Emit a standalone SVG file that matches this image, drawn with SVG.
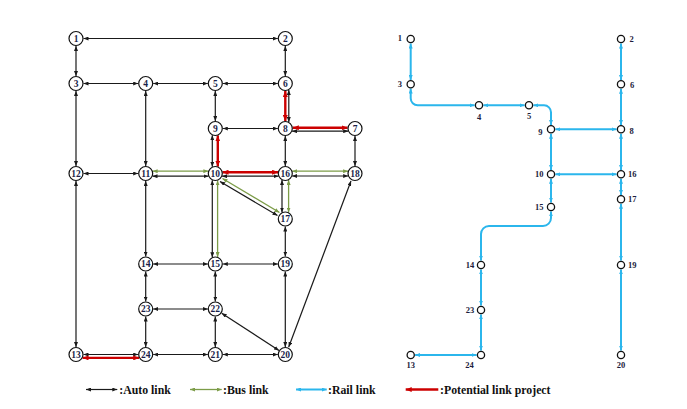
<svg xmlns="http://www.w3.org/2000/svg" width="687" height="409" viewBox="0 0 687 409">
<style>
.bg{fill:#ffffff}
.k{stroke:#1a1a1a;stroke-width:1.2;fill:none;marker-start:url(#aK);marker-end:url(#aK)}
.g{stroke:#7c9c48;stroke-width:1.3;fill:none;marker-start:url(#aG);marker-end:url(#aG)}
.r{stroke:#cc0000;stroke-width:2.4;fill:none;marker-start:url(#aR);marker-end:url(#aR)}
.b{stroke:#2bb6ec;stroke-width:2;fill:none;marker-start:url(#aB);marker-end:url(#aB)}
.n circle{fill:#ffffff;stroke:#111111;stroke-width:1.2}
.n text{font-family:"Liberation Serif",serif;font-weight:bold;font-size:9.5px;fill:#1b1f4a;text-anchor:middle}
.m circle{fill:#ffffff;stroke:#111111;stroke-width:1.3}
.m text{font-family:"Liberation Serif",serif;font-weight:bold;font-size:8.5px;fill:#1c1c3c}
.lg{font-family:"Liberation Serif",serif;font-weight:bold;font-size:11.8px;fill:#111111}
</style>
<defs>
<marker id="aK" markerUnits="userSpaceOnUse" markerWidth="5" markerHeight="4" refX="5" refY="2" orient="auto-start-reverse"><path d="M0,0 L5,2 L0,4 z" fill="#1a1a1a"/></marker>
<marker id="aG" markerUnits="userSpaceOnUse" markerWidth="5" markerHeight="4" refX="5" refY="2" orient="auto-start-reverse"><path d="M0,0 L5,2 L0,4 z" fill="#7c9c48"/></marker>
<marker id="aR" markerUnits="userSpaceOnUse" markerWidth="6" markerHeight="5" refX="6" refY="2.5" orient="auto-start-reverse"><path d="M0,0 L6,2.5 L0,5 z" fill="#cc0000"/></marker>
<marker id="aB" markerUnits="userSpaceOnUse" markerWidth="5" markerHeight="4" refX="5" refY="2" orient="auto-start-reverse"><path d="M0,0 L5,2 L0,4 z" fill="#2bb6ec"/></marker>
</defs>
<rect class="bg" x="0" y="0" width="687" height="409"/>

<g id="connectors">
<!-- auto links -->
<path class="k" d="M83.5,38.5 H277.8"/>
<path class="k" d="M76,46 V76"/>
<path class="k" d="M285.3,46 V76"/>
<path class="k" d="M83.5,83.5 H138.2"/>
<path class="k" d="M153.2,83.5 H207.8"/>
<path class="k" d="M222.8,83.5 H277.8"/>
<path class="k" d="M76,91 V166"/>
<path class="k" d="M145.7,91 V166"/>
<path class="k" d="M215.3,91 V121"/>
<path class="k" d="M288.8,89.9 V122.1"/>
<path class="k" d="M222.8,128.5 H277.8"/>
<path class="k" d="M292.1,131.2 H348.2"/>
<path class="k" d="M212.3,135.2 V166.8"/>
<path class="k" d="M285.3,136 V166"/>
<path class="k" d="M355,136 V166"/>
<path class="k" d="M83.5,173.5 H138.2"/>
<path class="k" d="M152.5,176.2 H208.5"/>
<path class="k" d="M222.1,176.2 H278.5"/>
<path class="k" d="M292.1,176 H348.2"/>
<path class="k" d="M76,181 V347"/>
<path class="k" d="M145.7,181 V256.5"/>
<path class="k" d="M212.3,180.2 V257.3"/>
<path class="k" d="M220,181.5 L277.5,215.5"/>
<path class="k" d="M282,180 V212.5"/>
<path class="k" d="M285.3,226.5 V256.5"/>
<path class="k" d="M153.2,264 H207.8"/>
<path class="k" d="M222.8,264 H277.8"/>
<path class="k" d="M351,181 L288.7,347"/>
<path class="k" d="M145.7,271.5 V301.5"/>
<path class="k" d="M215.3,271.5 V301.5"/>
<path class="k" d="M285.3,271.5 V347"/>
<path class="k" d="M153.2,309 H207.8"/>
<path class="k" d="M221.7,313.3 L279,350.5"/>
<path class="k" d="M145.7,316.5 V347"/>
<path class="k" d="M215.3,316.5 V347"/>
<path class="k" d="M83.5,354.5 H138.2"/>
<path class="k" d="M153.2,354.5 H207.8"/>
<path class="k" d="M222.8,354.5 H277.8"/>
<!-- bus links -->
<path class="g" d="M152.6,171.2 H208.4"/>
<path class="g" d="M292.2,171.2 H348.1"/>
<path class="g" d="M217.6,180.4 V257.1"/>
<path class="g" d="M222.5,178.5 L279.5,212.5"/>
<path class="g" d="M288.6,180 V212.5"/>
<!-- potential link projects -->
<path class="r" d="M285.3,91 V121"/>
<path class="r" d="M292.8,127.8 H347.5"/>
<path class="r" d="M217.8,135.4 V166.6"/>
<path class="r" d="M222.5,172.2 H278.1"/>
<path class="r" d="M82.5,357.9 H139.2"/>
<!-- rail links -->
<path class="b" d="M410.7,43.5 V80"/>
<path class="b" d="M621,43.5 V80"/>
<path class="b" d="M410.7,88.5 V98.3 A7,7 0 0 0 417.7,105.3 H474.6"/>
<path class="b" d="M483.4,105.3 H524.6"/>
<path class="b" d="M533.4,105.3 H544 A7,7 0 0 1 551,112.3 V124.9"/>
<path class="b" d="M555.4,129.3 H616.6"/>
<path class="b" d="M621,88.7 V124.9"/>
<path class="b" d="M551,133.7 V169.9"/>
<path class="b" d="M621,133.7 V169.9"/>
<path class="b" d="M555.4,174.3 H616.6"/>
<path class="b" d="M551,178.7 V202.6"/>
<path class="b" d="M621,178.7 V194.9"/>
<path class="b" d="M621,203.7 V260.6"/>
<path class="b" d="M551,211.4 V218 A8,8 0 0 1 543,226 H489 A8,8 0 0 0 481,234 V260.6"/>
<path class="b" d="M481,269.4 V305.6"/>
<path class="b" d="M481,314.4 V350.6"/>
<path class="b" d="M415.1,355 H476.6"/>
<path class="b" d="M621,269.4 V350.6"/>
</g>

<!-- left panel nodes -->
<g id="n1" class="n"><circle cx="76" cy="38.5" r="7"/><text x="76" y="41.8">1</text></g>
<g id="n2" class="n"><circle cx="285.3" cy="38.5" r="7"/><text x="285.3" y="41.8">2</text></g>
<g id="n3" class="n"><circle cx="76" cy="83.5" r="7"/><text x="76" y="86.8">3</text></g>
<g id="n4" class="n"><circle cx="145.7" cy="83.5" r="7"/><text x="145.7" y="86.8">4</text></g>
<g id="n5" class="n"><circle cx="215.3" cy="83.5" r="7"/><text x="215.3" y="86.8">5</text></g>
<g id="n6" class="n"><circle cx="285.3" cy="83.5" r="7"/><text x="285.3" y="86.8">6</text></g>
<g id="n9" class="n"><circle cx="215.3" cy="128.5" r="7"/><text x="215.3" y="131.8">9</text></g>
<g id="n8" class="n"><circle cx="285.3" cy="128.5" r="7"/><text x="285.3" y="131.8">8</text></g>
<g id="n7" class="n"><circle cx="355" cy="128.5" r="7"/><text x="355" y="131.8">7</text></g>
<g id="n12" class="n"><circle cx="76" cy="173.5" r="7"/><text x="76" y="176.8">12</text></g>
<g id="n11" class="n"><circle cx="145.7" cy="173.5" r="7"/><text x="145.7" y="176.8">11</text></g>
<g id="n10" class="n"><circle cx="215.3" cy="173.5" r="7"/><text x="215.3" y="176.8">10</text></g>
<g id="n16" class="n"><circle cx="285.3" cy="173.5" r="7"/><text x="285.3" y="176.8">16</text></g>
<g id="n18" class="n"><circle cx="355" cy="173.5" r="7"/><text x="355" y="176.8">18</text></g>
<g id="n17" class="n"><circle cx="285.3" cy="219" r="7"/><text x="285.3" y="222.3">17</text></g>
<g id="n14" class="n"><circle cx="145.7" cy="264" r="7"/><text x="145.7" y="267.3">14</text></g>
<g id="n15" class="n"><circle cx="215.3" cy="264" r="7"/><text x="215.3" y="267.3">15</text></g>
<g id="n19" class="n"><circle cx="285.3" cy="264" r="7"/><text x="285.3" y="267.3">19</text></g>
<g id="n23" class="n"><circle cx="145.7" cy="309" r="7"/><text x="145.7" y="312.3">23</text></g>
<g id="n22" class="n"><circle cx="215.3" cy="309" r="7"/><text x="215.3" y="312.3">22</text></g>
<g id="n13" class="n"><circle cx="76" cy="354.5" r="7"/><text x="76" y="357.8">13</text></g>
<g id="n24" class="n"><circle cx="145.7" cy="354.5" r="7"/><text x="145.7" y="357.8">24</text></g>
<g id="n21" class="n"><circle cx="215.3" cy="354.5" r="7"/><text x="215.3" y="357.8">21</text></g>
<g id="n20" class="n"><circle cx="285.3" cy="354.5" r="7"/><text x="285.3" y="357.8">20</text></g>

<!-- right panel (rail) nodes -->
<g id="r1" class="m"><circle cx="410.7" cy="39" r="3.6"/><text x="402" y="40.5" text-anchor="end">1</text></g>
<g id="r3" class="m"><circle cx="410.7" cy="84.3" r="3.6"/><text x="402" y="87" text-anchor="end">3</text></g>
<g id="r4" class="m"><circle cx="479" cy="105.3" r="3.6"/><text x="479" y="119.7" text-anchor="middle">4</text></g>
<g id="r5" class="m"><circle cx="529" cy="105.3" r="3.6"/><text x="529" y="118.5" text-anchor="middle">5</text></g>
<g id="r9" class="m"><circle cx="551" cy="129.3" r="3.6"/><text x="542.5" y="134.5" text-anchor="end">9</text></g>
<g id="r8" class="m"><circle cx="621" cy="129.3" r="3.6"/><text x="629.5" y="134" text-anchor="start">8</text></g>
<g id="r2" class="m"><circle cx="621" cy="39" r="3.6"/><text x="629.5" y="42" text-anchor="start">2</text></g>
<g id="r6" class="m"><circle cx="621" cy="84.3" r="3.6"/><text x="630" y="88" text-anchor="start">6</text></g>
<g id="r10" class="m"><circle cx="551" cy="174.3" r="3.6"/><text x="543.5" y="177.3" text-anchor="end">10</text></g>
<g id="r16" class="m"><circle cx="621" cy="174.3" r="3.6"/><text x="628" y="177.3" text-anchor="start">16</text></g>
<g id="r17" class="m"><circle cx="621" cy="199.3" r="3.6"/><text x="628" y="202.3" text-anchor="start">17</text></g>
<g id="r15" class="m"><circle cx="551" cy="207" r="3.6"/><text x="543.5" y="209.7" text-anchor="end">15</text></g>
<g id="r14" class="m"><circle cx="481" cy="265" r="3.6"/><text x="474.3" y="268" text-anchor="end">14</text></g>
<g id="r23" class="m"><circle cx="481" cy="310" r="3.6"/><text x="474.3" y="313" text-anchor="end">23</text></g>
<g id="r24" class="m"><circle cx="481" cy="355" r="3.6"/><text x="469.5" y="368" text-anchor="middle">24</text></g>
<g id="r13" class="m"><circle cx="410.7" cy="355" r="3.6"/><text x="410.7" y="368" text-anchor="middle">13</text></g>
<g id="r19" class="m"><circle cx="621" cy="265" r="3.6"/><text x="628" y="268" text-anchor="start">19</text></g>
<g id="r20" class="m"><circle cx="621" cy="355" r="3.6"/><text x="621" y="368" text-anchor="middle">20</text></g>

<g id="legend">
<path class="k" d="M86,389.5 H117.3"/>
<text class="lg" x="119.3" y="393.5">:Auto link</text>
<path class="g" d="M190,389.5 H221.7"/>
<text class="lg" x="223" y="393.5">:Bus link</text>
<path class="b" d="M296,389.5 H326.7"/>
<text class="lg" x="328" y="393.5">:Rail link</text>
<path d="M405.7,389.5 H438.3" stroke="#cc0000" stroke-width="2.4" fill="none" marker-start="url(#aR)"/>
<text class="lg" x="440" y="393.5">:Potential link project</text>
</g>
</svg>
